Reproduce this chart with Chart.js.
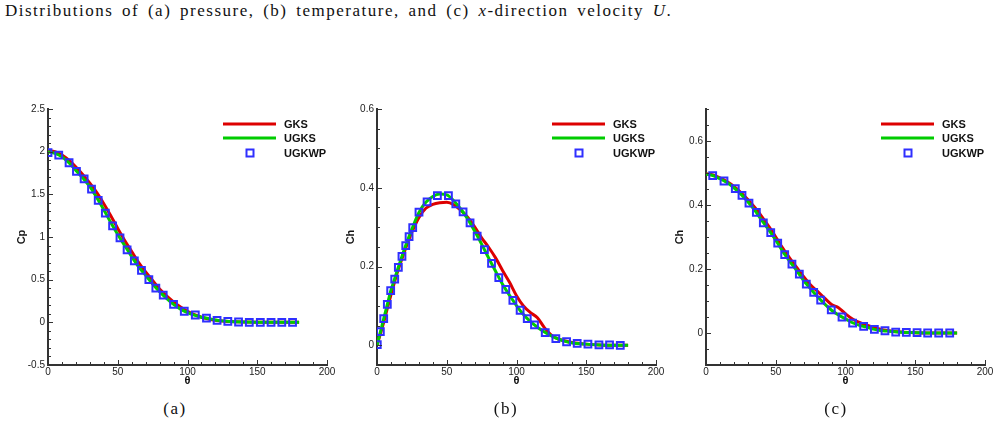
<!DOCTYPE html>
<html>
<head>
<meta charset="utf-8">
<script src="https://cdn.jsdelivr.net/npm/chart.js@4/dist/chart.umd.min.js"></script>
<style>
    body { margin: 0; background: #fff; width: 999px; height: 431px; position: relative; overflow: hidden; }
    .caption { position: absolute; left: 5px; top: 1px; font-family: "Liberation Serif", "DejaVu Serif", serif; font-size: 17px; letter-spacing: 1.5px; word-spacing: 3px; color: #111; white-space: nowrap; }
    .panel { position: absolute; top: 95px; }
    .sub { position: absolute; top: 399px; font-family: "Liberation Serif", serif; font-size: 17px; letter-spacing: 1.5px; color: #111; transform: translateX(-50%); }
</style>
</head>
<body>
<div class="caption">Distributions of (a) pressure, (b) temperature, and (c) <i>x</i>-direction velocity <i>U</i>.</div>
<canvas id="chartA" class="panel" style="left:0px" width="340" height="300"></canvas>
<canvas id="chartB" class="panel" style="left:329px" width="340" height="300"></canvas>
<canvas id="chartC" class="panel" style="left:658px" width="340" height="300"></canvas>
<div class="sub" style="left:175px">(a)</div>
<div class="sub" style="left:506px">(b)</div>
<div class="sub" style="left:836px">(c)</div>
<script>
let seriesNames = ["GKS", "UGKS", "UGKWP"];
let xTicks = [0, 50, 100, 150, 200];

// (a) pressure
let thetaA = [0, 5, 10, 15, 20, 25, 30, 35, 40, 45, 50, 55, 60, 65, 70, 75, 80, 85, 90, 95, 100, 105, 110, 115, 120, 125, 130, 140, 150, 160, 170, 180];
let gksA = [2.01, 2.0, 1.96, 1.9, 1.82, 1.73, 1.63, 1.52, 1.39, 1.25, 1.1, 0.96, 0.83, 0.7, 0.59, 0.49, 0.39, 0.31, 0.24, 0.18, 0.13, 0.09, 0.06, 0.04, 0.025, 0.015, 0.01, 0.004, 0.001, 0, 0, 0];
let ugksA = [2.0, 1.98, 1.94, 1.87, 1.78, 1.69, 1.59, 1.46, 1.32, 1.17, 1.03, 0.9, 0.77, 0.65, 0.55, 0.45, 0.36, 0.28, 0.21, 0.155, 0.115, 0.085, 0.06, 0.045, 0.028, 0.017, 0.01, 0.004, 0.001, 0, 0, 0];
let thetaWpA = [0, 7.7, 15.1, 20.4, 25.9, 31.2, 36, 41.1, 46.3, 51.6, 56.7, 61.9, 67, 72.3, 77.3, 82.6, 90, 97.7, 105.6, 113.6, 121.2, 128.9, 136.6, 144.3, 152.2, 159.9, 167.6, 175.3];
let ugkwpA = [1.99, 1.96, 1.87, 1.77, 1.68, 1.56, 1.43, 1.28, 1.13, 0.99, 0.85, 0.72, 0.61, 0.5, 0.4, 0.32, 0.21, 0.13, 0.086, 0.05, 0.023, 0.012, 0.004, 0, 0, 0, 0, 0];
let yTicksA = [-0.5, 0, 0.5, 1, 1.5, 2, 2.5];

// (b) temperature
let thetaB = [0, 2.5, 5, 7.5, 10, 12.5, 15, 17.5, 20, 22.5, 25, 30, 35, 40, 45, 50, 55, 60, 65, 70, 75, 80, 85, 90, 95, 100, 105, 110, 115, 120, 125, 130, 135, 140, 150, 160, 170, 180];
let gksB = [0, 0.03, 0.061, 0.095, 0.128, 0.16, 0.19, 0.216, 0.241, 0.265, 0.287, 0.324, 0.348, 0.358, 0.362, 0.363, 0.357, 0.343, 0.325, 0.301, 0.273, 0.249, 0.222, 0.19, 0.16, 0.126, 0.1, 0.083, 0.07, 0.045, 0.026, 0.016, 0.011, 0.007, 0.003, 0.001, 0, 0];
let ugksB = [0, 0.035, 0.07, 0.105, 0.14, 0.167, 0.195, 0.222, 0.248, 0.272, 0.295, 0.337, 0.363, 0.378, 0.384, 0.382, 0.367, 0.346, 0.321, 0.29, 0.257, 0.222, 0.188, 0.155, 0.127, 0.101, 0.078, 0.06, 0.046, 0.034, 0.024, 0.016, 0.01, 0.006, 0.003, 0.001, 0, 0];
let thetaWpB = [0.2, 2.4, 4.8, 7.4, 9.8, 12.7, 15.3, 17.9, 20.6, 23, 25.6, 30.1, 35.9, 43.3, 51.2, 56.5, 61.7, 66.7, 71.8, 77, 82.1, 87.3, 92.3, 97.4, 102.6, 107.7, 112.9, 120.6, 128.2, 135.9, 143.5, 151.2, 159.1, 166.7, 174.4];
let ugkwpB = [0.002, 0.035, 0.068, 0.104, 0.139, 0.168, 0.198, 0.226, 0.253, 0.276, 0.299, 0.338, 0.364, 0.38, 0.38, 0.359, 0.339, 0.311, 0.277, 0.243, 0.208, 0.172, 0.142, 0.114, 0.089, 0.068, 0.052, 0.032, 0.017, 0.009, 0.005, 0.003, 0.001, 0.001, 0];
let yTicksB = [0, 0.2, 0.4, 0.6];

// (c) x-direction velocity
let thetaC = [0, 5, 10, 15, 20, 25, 30, 35, 40, 45, 50, 55, 60, 65, 70, 75, 80, 85, 90, 95, 100, 105, 110, 115, 120, 125, 130, 140, 150, 160, 170, 180];
let gksC = [0.498, 0.494, 0.485, 0.473, 0.458, 0.439, 0.417, 0.392, 0.364, 0.333, 0.3, 0.265, 0.234, 0.205, 0.176, 0.15, 0.13, 0.109, 0.089, 0.079, 0.06, 0.044, 0.033, 0.025, 0.018, 0.012, 0.008, 0.003, 0.001, 0, 0, 0];
let ugksC = [0.497, 0.492, 0.482, 0.47, 0.454, 0.434, 0.41, 0.383, 0.352, 0.322, 0.29, 0.255, 0.224, 0.195, 0.164, 0.138, 0.113, 0.091, 0.071, 0.056, 0.044, 0.032, 0.024, 0.019, 0.012, 0.008, 0.006, 0.002, 0.001, 0, 0, 0];
let thetaWpC = [4.8, 12.9, 21, 25.8, 30.8, 36.1, 41.1, 46.4, 51.4, 56.4, 61.6, 66.9, 71.9, 77.2, 82.2, 89.8, 97.5, 105.1, 113, 120.7, 128.3, 136, 143.6, 151.3, 158.9, 166.8, 174.7];
let ugkwpC = [0.492, 0.475, 0.451, 0.43, 0.406, 0.377, 0.344, 0.314, 0.281, 0.245, 0.215, 0.184, 0.153, 0.127, 0.103, 0.072, 0.05, 0.031, 0.021, 0.011, 0.007, 0.003, 0.002, 0.001, 0, 0, 0];
let yTicksC = [0, 0.2, 0.4, 0.6];

function points(xs, ys) {
    return xs.map(function (x, i) { return { x: x, y: ys[i] }; });
}

// inward tick marks + legend drawn like the Tecplot output
let tecplotExtras = {
    id: "tecplotExtras",
    afterDraw: function (chart) {
        let ctx = chart.ctx;
        let area = chart.chartArea;
        let xs = chart.scales.x;
        let ys = chart.scales.y;
        let extra = chart.options.plugins.tecplotExtras;
        ctx.save();
        ctx.strokeStyle = "#333";
        ctx.lineWidth = 1;
        for (let v = xs.min; v <= xs.max + 1e-9; v += 10) {
            let px = Math.round(xs.getPixelForValue(v)) + 0.5;
            let len = (Math.abs(v % 50) < 1e-6) ? 5 : 3;
            ctx.beginPath();
            ctx.moveTo(px, area.bottom);
            ctx.lineTo(px, area.bottom - len);
            ctx.stroke();
        }
        let n = Math.round((ys.max - ys.min) / extra.minorStep);
        for (let i = 0; i <= n; i++) {
            let v = ys.min + i * extra.minorStep;
            let py = Math.round(ys.getPixelForValue(v)) + 0.5;
            let isMajor = extra.yTicks.some(function (t) { return Math.abs(t - v) < 1e-6; });
            let len = isMajor ? 5 : 3;
            ctx.beginPath();
            ctx.moveTo(area.left, py);
            ctx.lineTo(area.left + len, py);
            ctx.stroke();
        }

        // legend
        let ds = chart.data.datasets;
        let lx = area.left + 175;
        let rows = [area.top + 15, area.top + 29, area.top + 44];
        ctx.font = "bold 11px 'Liberation Sans', Arial, sans-serif";
        ctx.textBaseline = "middle";
        ctx.textAlign = "left";
        for (let i = 0; i < 3; i++) {
            if (i < 2) {
                ctx.strokeStyle = ds[i].borderColor;
                ctx.lineWidth = 3;
                ctx.beginPath();
                ctx.moveTo(lx, rows[i]);
                ctx.lineTo(lx + 53, rows[i]);
                ctx.stroke();
            } else {
                ctx.strokeStyle = ds[i].borderColor;
                ctx.lineWidth = 2;
                ctx.strokeRect(lx + 23.5, rows[i] - 3.5, 7, 7);
            }
            ctx.fillStyle = "#111";
            ctx.fillText(ds[i].label, lx + 61, rows[i] + 1);
        }
        ctx.restore();
    }
};

function makeChart(canvasId, yTitle, yMin, yMax, yTicks, minorStep, gksX, gksY, ugksX, ugksY, wpX, wpY) {
    let context = document.getElementById(canvasId).getContext("2d");
    return new Chart(context, {
        type: "line",
        data: {
            datasets: [{
                label: seriesNames[0],
                data: points(gksX, gksY),
                borderColor: "#dd0000",
                backgroundColor: "rgba(0,0,0,0)",
                borderWidth: 3,
                pointRadius: 0,
                cubicInterpolationMode: "monotone",
                order: 3
            },
            {
                label: seriesNames[1],
                data: points(ugksX, ugksY),
                borderColor: "#00cc00",
                backgroundColor: "rgba(0,0,0,0)",
                borderWidth: 3,
                pointRadius: 0,
                cubicInterpolationMode: "monotone",
                order: 2
            },
            {
                label: seriesNames[2],
                data: points(wpX, wpY),
                showLine: false,
                pointStyle: "rect",
                pointRadius: 4.8,
                pointBorderWidth: 2,
                borderColor: "#2f2fff",
                pointBorderColor: "#2f2fff",
                pointBackgroundColor: "rgba(0,0,0,0)",
                backgroundColor: "rgba(0,0,0,0)",
                order: 1
            }]
        },
        options: {
            responsive: false,
            animation: false,
            devicePixelRatio: 1,
            layout: { padding: { left: 0, right: 13, top: 14, bottom: 0 } },
            plugins: {
                legend: { display: false },
                tooltip: { enabled: false },
                tecplotExtras: { yTicks: yTicks, minorStep: minorStep }
            },
            scales: {
                x: {
                    type: "linear",
                    min: 0,
                    max: 200,
                    afterBuildTicks: function (scale) { scale.ticks = xTicks.map(v => ({ value: v })); },
                    afterFit: function (scale) { scale.height = 30; scale.paddingLeft = 0; scale.paddingRight = 0; },
                    grid: { display: false, drawTicks: false },
                    border: { display: true, color: "#333", width: 2 },
                    ticks: { padding: 1, color: "#222", font: { family: "'Liberation Sans', Arial, sans-serif", size: 10 }, maxRotation: 0, callback: v => String(v) },
                    title: { display: true, text: "θ", color: "#111", font: { family: "'Liberation Sans', Arial, sans-serif", size: 11, weight: "bold" }, padding: { top: 0, bottom: 7 } }
                },
                y: {
                    type: "linear",
                    min: yMin,
                    max: yMax,
                    afterBuildTicks: function (scale) { scale.ticks = yTicks.map(v => ({ value: v })); },
                    afterFit: function (scale) { scale.width = 48; scale.paddingTop = 0; scale.paddingBottom = 0; },
                    grid: { display: false, drawTicks: false },
                    border: { display: true, color: "#333", width: 2 },
                    ticks: { padding: 3, color: "#222", font: { family: "'Liberation Sans', Arial, sans-serif", size: 10 }, callback: v => String(v) },
                    title: { display: true, text: yTitle, color: "#111", font: { family: "'Liberation Sans', Arial, sans-serif", size: 11, weight: "bold" }, padding: { top: 15, bottom: 0 } }
                }
            }
        },
        plugins: [tecplotExtras]
    });
}

makeChart("chartA", "Cp", -0.5, 2.5, yTicksA, 0.1, thetaA, gksA, thetaA, ugksA, thetaWpA, ugkwpA);
makeChart("chartB", "Ch", -0.05, 0.6, yTicksB, 0.05, thetaB, gksB, thetaB, ugksB, thetaWpB, ugkwpB);
makeChart("chartC", "Ch", -0.1, 0.7, yTicksC, 0.05, thetaC, gksC, thetaC, ugksC, thetaWpC, ugkwpC);
</script>
</body>
</html>
